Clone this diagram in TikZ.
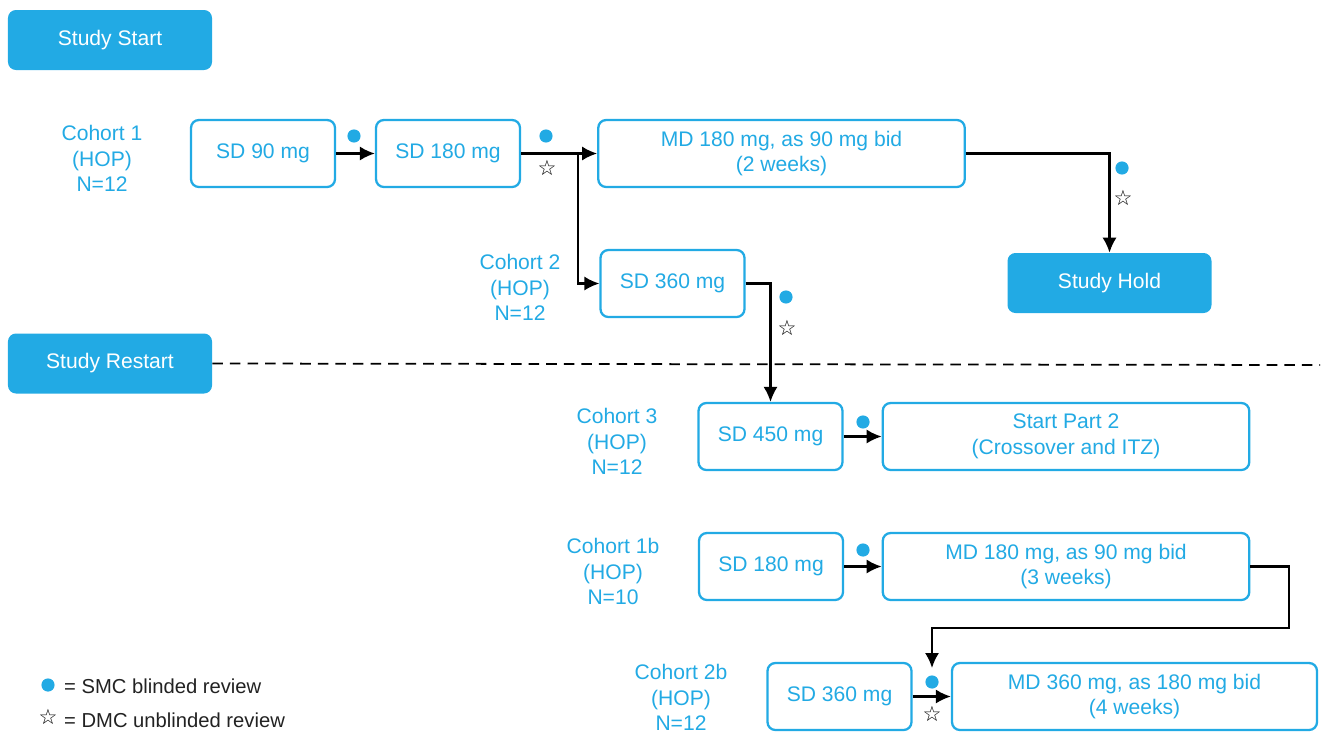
\documentclass[tikz,border=0pt]{standalone}
\usepackage{fontspec}
\setmainfont{Liberation Sans}
\newfontfamily\symfont{DejaVu Sans}
\usetikzlibrary{arrows.meta,calc,positioning}
\definecolor{sky}{HTML}{22AAE4}
\definecolor{ink}{HTML}{222222}

\begin{document}
\begin{tikzpicture}[font=\fontsize{12}{14.7}\selectfont, text=sky, >={Latex[length=8.5pt,width=8pt]},
  phase/.style={draw=sky, line width=1.3pt, rounded corners=4.5pt, fill=white, minimum width=2.88cm, minimum height=1.34cm, align=center},
  wide/.style={phase, minimum width=7.33cm},
  banner/.style={fill=sky, rounded corners=4.5pt, text=white, minimum width=4.08cm, minimum height=1.2cm},
  cohort/.style={align=center},
  flow/.style={draw=black, line width=1.2pt},
  smc/.style={fill=sky, draw=none, circle, inner sep=0pt, minimum size=7.5pt},
  dmc/.style={text=black, inner sep=0pt, font=\symfont\fontsize{12}{12}\selectfont}]
  \useasboundingbox (0,0) rectangle (26.56,-14.66);

  \node[banner] (start) at (2.2,-0.8) {Study Start};
  \node[banner] (hold) at (22.19,-5.66) {Study Hold};
  \node[banner] (restart) at (2.2,-7.27) {Study Restart};

  \node[cohort] (c1) at (2.04,-3.17) {Cohort 1\\(HOP)\\N=12};
  \node[cohort] (c2) at (10.4,-5.75) {Cohort 2\\(HOP)\\N=12};
  \node[cohort] (c3) at (12.34,-8.83) {Cohort 3\\(HOP)\\N=12};
  \node[cohort] (c1b) at (12.26,-11.43) {Cohort 1b\\(HOP)\\N=10};
  \node[cohort] (c2b) at (13.62,-13.95) {Cohort 2b\\(HOP)\\N=12};

  \node[phase] (sd90) at (5.26,-3.07) {SD 90 mg};
  \node[phase] (sd180a) at (8.96,-3.07) {SD 180 mg};
  \node[wide] (md2w) at (15.63,-3.07) {MD 180 mg, as 90 mg bid\\(2 weeks)};
  \node[phase] (sd360a) at (13.45,-5.67) {SD 360 mg};
  \node[phase] (sd450) at (15.41,-8.73) {SD 450 mg};
  \node[wide] (part2) at (21.32,-8.73) {Start Part 2\\(Crossover and ITZ)};
  \node[phase] (sd180b) at (15.42,-11.33) {SD 180 mg};
  \node[wide] (md3w) at (21.32,-11.33) {MD 180 mg, as 90 mg bid\\(3 weeks)};
  \node[phase] (sd360b) at (16.79,-13.93) {SD 360 mg};
  \node[wide, minimum width=7.3cm] (md4w) at (22.69,-13.93) {MD 360 mg, as 180 mg bid\\(4 weeks)};

  % connectors
  \coordinate (split) at (11.56,-3.07);
  \coordinate (drop) at (18.64,-13.36);
  \draw[flow,->] (sd90) -- (sd180a);
  \draw[flow,->] (sd180a) -- (md2w);
  \draw[flow,->] (split) |- (sd360a.west);
  \draw[flow,->] (md2w.east) -| (hold.north);
  \draw[flow,->] (sd360a.east) -| (sd450.north);
  \draw[flow,->] (sd450) -- (part2);
  \draw[flow,->] (sd180b) -- (md3w);
  \draw[flow,->] (md3w.east) -| (25.78,-12.56) -| (drop);
  \draw[flow,->] (sd360b) -- (md4w);
  \draw[flow, dashed, line width=1pt, dash pattern=on 6pt off 4pt] (restart.east) -- (26.4,-7.3);

  % reviews
  \foreach \x/\y [count=\i] in {7.08/-2.72, 10.92/-2.72, 22.44/-3.36, 15.72/-5.94, 17.26/-8.44, 17.26/-11.0, 18.64/-13.64}
    \node[smc] (dot\i) at (\x,\y) {};
  \foreach \x/\y [count=\i] in {10.94/-3.36, 22.46/-3.96, 15.74/-6.56, 18.64/-14.28}
    \node[dmc] (star\i) at (\x,\y) {☆};

  % legend
  \node[smc] (keydot) at (0.96,-13.7) {};
  \node[dmc] (keystar) at (0.96,-14.34) {☆};
  \node[anchor=west, text=ink, font=\fontsize{11.5}{13}\selectfont] (keysmc) at (1.16,-13.72) {= SMC blinded review};
  \node[anchor=west, text=ink, font=\fontsize{11.5}{13}\selectfont] (keydmc) at (1.16,-14.4) {= DMC unblinded review};
\end{tikzpicture}
\end{document}
